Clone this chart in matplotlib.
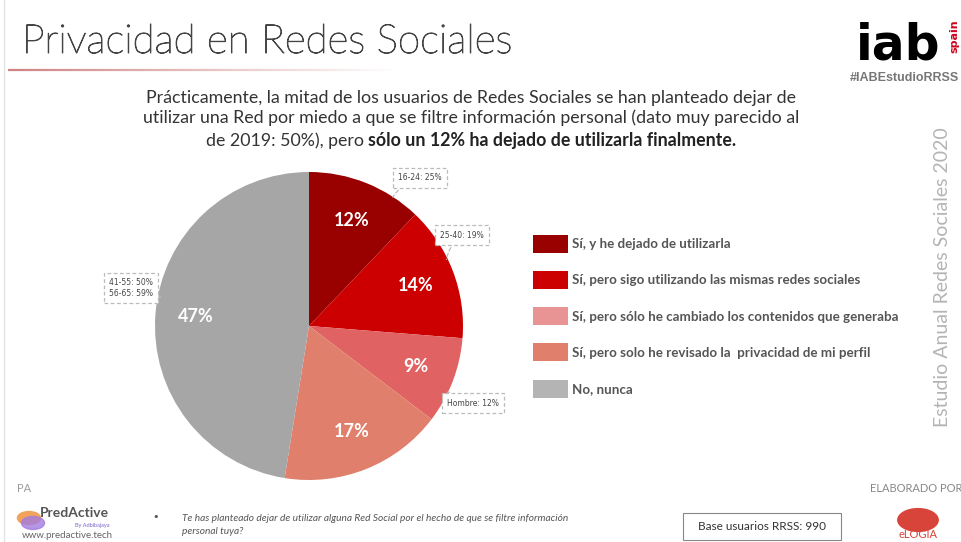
import numpy as np
import matplotlib.pyplot as plt
import matplotlib.patheffects as pe
from matplotlib.patches import Patch, FancyBboxPatch
from matplotlib.collections import LineCollection

# datos de la pregunta
labels = [
    "Sí, y he dejado de utilizarla",
    "Sí, pero sigo utilizando las mismas redes sociales",
    "Sí, pero sólo he cambiado los contenidos que generaba",
    "Sí, pero solo he revisado la  privacidad de mi perfil",
    "No, nunca",
]
values = [12, 14, 9, 17, 47]
colors = ["#990000", "#CC0000", "#E06262", "#E07F6B", "#A6A6A6"]
legend_colors = ["#990000", "#CC0000", "#E89494", "#E07F6B", "#B4B4B4"]

# notas por segmento
notes = ["16-24: 25%", "25-40: 19%", "Hombre: 12%", "41-55: 50%\n56-65: 59%"]

W, H = 962, 542
fig = plt.figure(figsize=(W / 100, H / 100), dpi=100)
fig.patch.set_facecolor("white")
FONT = "Lato"

# cabecera
fig.text(22 / W, 1 - 42 / H, "Privacidad en Redes Sociales", fontsize=29,
         color="#444444", family=FONT, weight="light", va="center",
         path_effects=[pe.withStroke(linewidth=0.7, foreground="#444444")])
xs = np.linspace(8, 400, 80)
segs = [[(xs[i] / W, 1 - 70 / H), (xs[i + 1] / W, 1 - 70 / H)] for i in range(len(xs) - 1)]
alph = np.linspace(0.75, 0.0, len(segs))
lc = LineCollection(segs, colors=[(0.75, 0.35, 0.35, a) for a in alph], linewidths=1.6,
                    transform=fig.transFigure)
fig.add_artist(lc)
fig.add_artist(plt.Line2D([4 / W, 4 / W], [0, 1], color="#e4e4e4", lw=1,
                          transform=fig.transFigure))

# logo iab
fig.text(856 / W, 1 - 45 / H, "iab", fontsize=35, weight="bold", color="black",
         family="DejaVu Sans", va="center", ha="left")
fig.text(954 / W, 1 - 36 / H, "spain", fontsize=8, weight="bold", color="#d0021b",
         rotation=90, va="center", ha="center", family="DejaVu Sans")
fig.text(850 / W, 1 - 78 / H, "#IABEstudioRRSS", fontsize=9, weight="bold",
         color="#777777", family="Liberation Sans", va="center")

fig.text(943 / W, 1 - 277 / H, "Estudio Anual Redes Sociales 2020", fontsize=14,
         color="#b4b4b4", rotation=90, va="center", ha="center", family=FONT)

# subtitulo
sub = ("Prácticamente, la mitad de los usuarios de Redes Sociales se han planteado dejar de\n"
       "utilizar una Red por miedo a que se filtre información personal (dato muy parecido al")
fig.text(471 / W, 1 - 108 / H, sub, fontsize=12.8, color="#333333", family=FONT,
         ha="center", va="center", linespacing=1.3)
t_a = fig.text(0, 1 - 141 / H, "de 2019: 50%), pero ", fontsize=12.8,
               color="#333333", family=FONT, ha="left", va="center")
t_b = fig.text(0, 1 - 141 / H, "sólo un 12% ha dejado de utilizarla finalmente.",
               fontsize=12.8, color="#222222", family=FONT, weight="bold", ha="left",
               va="center")
renderer = fig.canvas.get_renderer()
wa = t_a.get_window_extent(renderer).width
wb = t_b.get_window_extent(renderer).width
x0 = 471 - (wa + wb) / 2
t_a.set_x(x0 / W)
t_b.set_x((x0 + wa) / W)

# tarta
cx, cy, r = 309, 326, 154
ax = fig.add_axes([(cx - r) / W, (H - cy - r) / H, 2 * r / W, 2 * r / H])
wedges, _, autotexts = ax.pie(values, colors=colors, startangle=90, counterclock=False,
                              autopct=lambda p: f"{p * sum(values) / 100:.0f}%",
                              pctdistance=0.74, wedgeprops=dict(linewidth=0))
for t in autotexts:
    t.set_color("white")
    t.set_fontsize(13)
    t.set_fontweight("bold")
    t.set_family(FONT)
ax.set_xlim(-1, 1)
ax.set_ylim(-1, 1)

# notas con recuadro discontinuo
box = dict(boxstyle="square,pad=0.7", fc="white", ec="#bbbbbb", ls=(0, (3, 2)), lw=0.9)
arrow = dict(arrowstyle="-", color="#bbbbbb", ls=(0, (3, 2)), lw=0.9,
             connectionstyle="arc3,rad=0.2")
note_pos = [(420, 178), (462, 235), (473, 403), (131, 288)]
angles = [57, 25, -26, 169]
for txt, (px, py), a in zip(notes, note_pos, angles):
    ang = np.deg2rad(a)
    ax.annotate(txt, xy=(np.cos(ang) * 0.98, np.sin(ang) * 0.98),
                xytext=(px, H - py), textcoords="figure pixels",
                fontsize=5.5, color="#444444", ha="center", va="center",
                bbox=box, arrowprops=arrow, annotation_clip=False)

# leyenda
handles = [Patch(facecolor=c, edgecolor="none") for c in legend_colors]
fig.legend(handles, labels, loc="upper left", bbox_to_anchor=(521 / W, 1 - 223 / H),
           frameon=False, handlelength=2.6, handleheight=1.7,
           labelspacing=1.36, handletextpad=0.3, labelcolor="#555555",
           prop=dict(family=FONT, weight="bold", size=9.6))

# pie de pagina
fig.text(17 / W, 1 - 488 / H, "PA", fontsize=8, color="#999999", family=FONT, va="center")
fig.add_artist(plt.Circle((29 / W, 1 - 518 / H), 0.012, color="#f2a35b",
                          transform=fig.transFigure))
fig.add_artist(plt.Circle((33 / W, 1 - 523 / H), 0.012, color="#a27ce0", alpha=0.8,
                          transform=fig.transFigure))
fig.text(40 / W, 1 - 513 / H, "PredActive", fontsize=10, weight="bold", color="#555555",
         family=FONT, va="center")
fig.text(75 / W, 1 - 525 / H, "By Adbibajaya", fontsize=4, color="#7a63c8",
         family=FONT, va="center")
fig.text(22 / W, 1 - 536 / H, "www.predactive.tech", fontsize=7, color="#666666",
         family=FONT, va="center")
fig.text(152 / W, 1 - 517 / H, "•", fontsize=8, color="#555555", va="center")
fig.text(182 / W, 1 - 525 / H,
         "Te has planteado dejar de utilizar alguna Red Social por el hecho de que se filtre información\npersonal tuya?",
         fontsize=7.3, style="italic", color="#555555", family=FONT, va="center",
         linespacing=1.6)
fig.text(762 / W, 1 - 526 / H, "Base usuarios RRSS: 990", fontsize=8.5, color="#333333",
         family=FONT, ha="center", va="center")
fig.add_artist(FancyBboxPatch((683 / W, 1 - 540 / H), 158 / W, 27 / H,
                              boxstyle="square,pad=0", fc="none", ec="#888888", lw=0.8,
                              transform=fig.transFigure))
fig.text(870 / W, 1 - 488 / H, "ELABORADO POR", fontsize=8, color="#888888",
         family=FONT, va="center")
fig.add_artist(plt.Circle((918 / W, 1 - 520 / H), 0.021, color="#d9443a",
                          transform=fig.transFigure))
fig.text(918 / W, 1 - 535 / H, "eLOGIA", fontsize=8, color="#d9443a", family=FONT,
         ha="center", va="center")

fig.savefig("out.png", dpi=100)
